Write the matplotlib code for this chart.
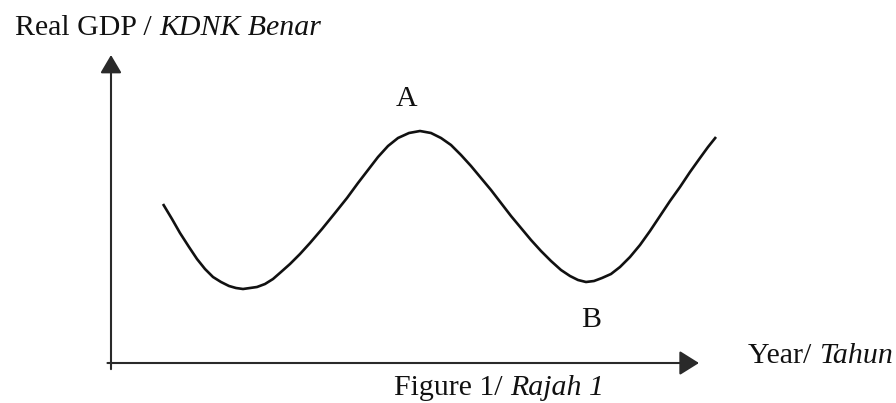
import numpy as np
import matplotlib
matplotlib.use("Agg")
import matplotlib.pyplot as plt
from matplotlib.patches import FancyArrowPatch

# ---- data ----
years = [52, 61, 69, 78, 86, 94, 102, 110, 118, 125, 132, 139, 146, 154, 162,
         170, 179, 189, 199, 211, 224, 236, 247, 257, 267, 277, 287, 298, 309,
         320, 330, 340, 350, 360, 370, 380, 390, 400, 410, 420, 430, 440, 450,
         459, 467, 475, 483, 491, 500, 509, 519, 529, 539, 549, 559, 569, 579,
         589, 597, 605]
real_gdp = [159, 144, 130, 116, 104, 94, 86, 81, 77, 75, 74, 75, 76, 79, 84,
            91, 99, 109, 120, 134, 150, 165, 180, 193, 206, 217, 225, 230, 232,
            230, 225, 218, 208, 197, 185, 173, 160, 147, 135, 123, 112, 102, 93,
            87, 83, 81, 82, 85, 89, 96, 106, 118, 132, 147, 162, 176, 191,
            205, 216, 226]
x_max = 588
y_max = 308
title_parts = [("Real GDP / ", "normal"), ("KDNK Benar", "italic")]
xlabel_parts = [("Year/ ", "normal"), ("Tahun", "italic")]
caption_parts = [("Figure 1/ ", "normal"), ("Rajah 1", "italic")]
peak_label = "A"
trough_label = "B"

W, H = 896, 403
FS = 21.5
FAM = "Liberation Serif"
INK = "#111111"

fig = plt.figure(figsize=(W / 100, H / 100), dpi=100)
fig.patch.set_facecolor("white")

ax = fig.add_axes([111 / W, (H - 363) / H, 588 / W, 308 / H])
ax.set_xlim(0, x_max)
ax.set_ylim(0, y_max)
ax.axis("off")

# axes arrows
for start, end, hl, hw in [((-0.006, 0.0), (1.0, 0.0), 12, 7.5),
                           ((0.0, -0.02), (0.0, 1.0), 11, 6.5)]:
    arr = FancyArrowPatch(start, end, transform=ax.transAxes,
                          arrowstyle=f"-|>,head_length={hl},head_width={hw}",
                          mutation_scale=1, shrinkA=0, shrinkB=0,
                          lw=1.5, color="#2a2a2a", clip_on=False)
    ax.add_patch(arr)

# curve
ax.plot(years, real_gdp, color=INK, lw=1.9, solid_joinstyle="round",
        solid_capstyle="butt", clip_on=False)

# peak / trough labels
ipk = int(np.argmax(real_gdp))
itr = int(np.argmin(real_gdp[ipk:])) + ipk
ax.annotate(peak_label, (years[ipk], real_gdp[ipk]), xytext=(-10, 18),
            textcoords="offset points", ha="center", va="baseline",
            fontsize=FS, family=FAM, color=INK)
ax.annotate(trough_label, (years[itr], real_gdp[itr]), xytext=(4, -32.5),
            textcoords="offset points", ha="center", va="baseline",
            fontsize=FS, family=FAM, color=INK)

fig.canvas.draw()
renderer = fig.canvas.get_renderer()


def mixed(x_px, y_base_px, parts, ha="left"):
    widths = []
    for s, style in parts:
        t = fig.text(0, 0, s, fontsize=FS, family=FAM, style=style)
        bb = t.get_window_extent(renderer)
        widths.append(bb.width)
        t.remove()
    total = sum(widths)
    x = x_px - (total / 2 if ha == "center" else 0)
    for (s, style), w in zip(parts, widths):
        fig.text(x / W, (H - y_base_px) / H, s, fontsize=FS, family=FAM,
                 style=style, color=INK, ha="left", va="baseline")
        x += w


mixed(15, 35, title_parts)
mixed(748, 363, xlabel_parts)
mixed(499, 395, caption_parts, ha="center")

fig.savefig("out.png", dpi=100, facecolor="white")
